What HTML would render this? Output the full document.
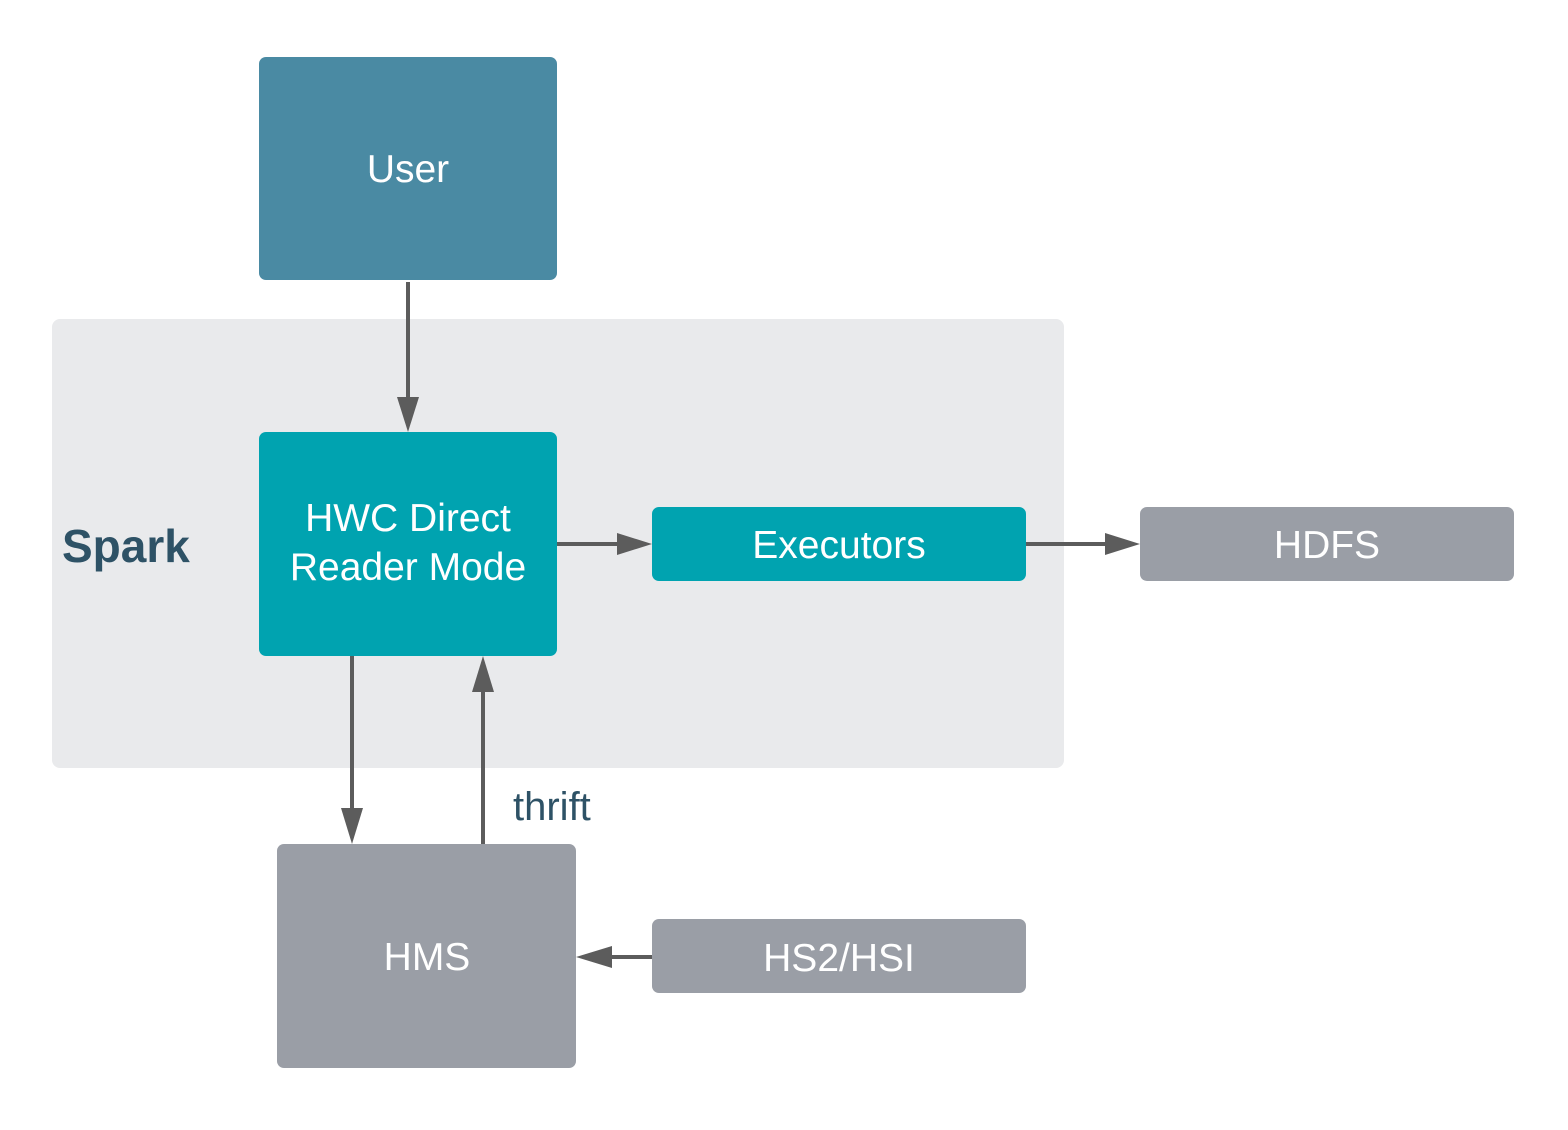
<!DOCTYPE html>
<html><head><meta charset="utf-8"><style>html,body{margin:0;padding:0;background:#fff}</style></head>
<body>
<svg width="1568" height="1125" viewBox="0 0 1568 1125" xmlns="http://www.w3.org/2000/svg" font-family="Liberation Sans, sans-serif">
<rect x="52" y="319" width="1012" height="449" rx="8" fill="#e9eaec"/>
<rect x="259" y="57" width="298" height="223" rx="7" fill="#4a8aa3"/>
<rect x="259" y="432" width="298" height="224" rx="7" fill="#00a3b0"/>
<rect x="652" y="507" width="374" height="74" rx="7" fill="#00a3b0"/>
<rect x="1140" y="507" width="374" height="74" rx="7" fill="#9a9ea6"/>
<rect x="277" y="844" width="299" height="224" rx="7" fill="#9a9ea6"/>
<rect x="652" y="919" width="374" height="74" rx="7" fill="#9a9ea6"/>
<g stroke="#5c5c5c" stroke-width="4" fill="none">
<line x1="408" y1="282" x2="408" y2="400"/>
<line x1="557" y1="544" x2="620" y2="544"/>
<line x1="1026" y1="544" x2="1108" y2="544"/>
<line x1="352" y1="656" x2="352" y2="810"/>
<line x1="483" y1="844" x2="483" y2="690"/>
<line x1="652" y1="957" x2="610" y2="957"/>
</g>
<g fill="#5c5c5c">
<polygon points="397,397 419,397 408,432"/>
<polygon points="617,533 617,555 652,544"/>
<polygon points="1105,533 1105,555 1140,544"/>
<polygon points="341,808 363,808 352,844"/>
<polygon points="472,692 494,692 483,656"/>
<polygon points="612,946 612,968 576,957"/>
</g>
<g fill="#fff" font-size="39" text-anchor="middle">
<text x="408" y="182">User</text>
<text x="408" y="531">HWC Direct</text>
<text x="408" y="580">Reader Mode</text>
<text x="839" y="558">Executors</text>
<text x="1327" y="558">HDFS</text>
<text x="427" y="970">HMS</text>
<text x="839" y="971">HS2/HSI</text>
</g>
<text x="62" y="562" font-size="46" font-weight="bold" fill="#2e5266">Spark</text>
<text x="513" y="820" font-size="40" fill="#2e5266">thrift</text>
</svg>
</body></html>
